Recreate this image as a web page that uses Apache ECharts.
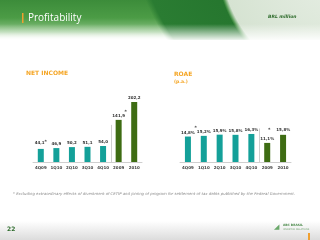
<!DOCTYPE html>
<html><head><meta charset="utf-8">
<script src="https://cdn.jsdelivr.net/npm/echarts@6/dist/echarts.min.js"></script>
<style>
html,body{margin:0;padding:0;background:#fff;width:320px;height:240px;overflow:hidden}
#hdr{position:absolute;left:0;top:0;width:320px;height:40px;
background:
linear-gradient(rgba(255,255,255,0) 60%, rgba(255,255,255,0.92) 100%),
radial-gradient(circle 130px at 345px -40px, #e9f0e7 0, #d6e3d2 95%, #4a944a 98%, rgba(0,0,0,0) 99%),
radial-gradient(circle 215px at 345px -80px, #1c6a27 0, #2a7c32 97%, rgba(0,0,0,0) 100%),
linear-gradient(#3c8c3a, #4c9c46 45%, #8fc487 80%, #ffffff 100%);}
#ftr{position:absolute;left:0;top:221px;width:320px;height:19px;background:linear-gradient(#ffffff,#dcdcdc)}
#c{position:absolute;left:0;top:0;width:320px;height:240px}
</style>
</head><body>
<div id="hdr"></div><div id="ftr"></div>
<div id="c"></div>
<script>
const categories = ['4Q09','1Q10','2Q10','3Q10','4Q10','2009','2010'];
const netIncome = [44.1, 46.9, 50.2, 51.1, 54.0, 141.9, 202.2];
const netIncomeLabels = ['44,1','46,9','50,2','51,1','54,0','141,9','202,2'];
const roae = [14.8, 15.2, 15.9, 15.8, 16.3, 11.1, 15.8];
const roaeLabels = ['14,8%','15,2%','15,9%','15,8%','16,3%','11,1%','15,8%'];

const TEAL = '#14a099', DARK = '#3e6c13';
const FONT = 'DejaVu Sans';
const chart = echarts.init(document.getElementById('c'), null, {renderer:'canvas'});

const rich = {
  v:{fontSize:4, fontWeight:'bold', color:'#333', fontFamily:FONT},
  sup:{fontSize:4.5, fontWeight:'bold', color:'#333', fontFamily:FONT, padding:[0,0,3,0]},
  sa:{fontSize:4.5, fontWeight:'bold', color:'#333', fontFamily:FONT, align:'right', padding:[0,-2,0,0]},
  sl:{fontSize:4.5, fontWeight:'bold', color:'#333', fontFamily:FONT, padding:[0,6,0,0]}
};

function niLabel(p){
  const t = netIncomeLabels[p.dataIndex];
  if (p.dataIndex === 0) return '{v|' + t + '}{sup|*}';
  if (p.dataIndex === 5) return '{sa|*}\n{v|' + t + '}';
  return '{v|' + t + '}';
}
function roLabel(p){
  const t = roaeLabels[p.dataIndex];
  if (p.dataIndex === 0) return '{sa|*}\n{v|' + t + '}';
  if (p.dataIndex === 6) return '{sl|*}{v|' + t + '}';
  return '{v|' + t + '}';
}
function colorFn(p){ return p.dataIndex < 5 ? TEAL : DARK; }

const axisX = (gi) => ({
  type:'category', gridIndex:gi, data:categories,
  axisLine:{lineStyle:{color:'#cfcfcf', width:1}},
  axisTick:{show:false},
  axisLabel:{fontSize:4, color:'#444', fontWeight:'bold', fontFamily:FONT, margin:4, interval:0}
});

chart.setOption({
  backgroundColor:'transparent',
  animation:false,
  grid:[
    {left:33, width:109, top:96.7, height:65.3},
    {left:180, width:111, top:127.6, height:34.4}
  ],
  xAxis:[axisX(0), axisX(1)],
  yAxis:[
    {type:'value', gridIndex:0, min:0, max:220, show:false},
    {type:'value', gridIndex:1, min:0, max:20, show:false}
  ],
  series:[
    {type:'bar', xAxisIndex:0, yAxisIndex:0, data:netIncome, barWidth:6,
     itemStyle:{color:colorFn},
     label:{show:true, position:'top', distance:2, formatter:niLabel, rich:rich}},
    {type:'bar', xAxisIndex:1, yAxisIndex:1, data:roae, barWidth:6,
     itemStyle:{color:colorFn},
     label:{show:true, position:'top', distance:2, formatter:roLabel, rich:rich},
     labelLayout:function(p){ return p.dataIndex===6 ? {dx:-4} : {}; }}
  ]
});

function sepX(gi){
  const a = chart.convertToPixel({xAxisIndex:gi}, '4Q10');
  const b = chart.convertToPixel({xAxisIndex:gi}, '2009');
  return Math.round((a+b)/2)+0.5;
}
const y0a = chart.convertToPixel({yAxisIndex:0}, 0);
const y1a = chart.convertToPixel({yAxisIndex:0}, 125);
const y0b = chart.convertToPixel({yAxisIndex:1}, 0);
const y1b = chart.convertToPixel({yAxisIndex:1}, 19.5);

chart.setOption({
  graphic:[
    {type:'rect', shape:{x:22, y:13, width:1.5, height:10}, style:{fill:'#f0a030'}},
    {type:'text', x:28, y:18, style:{text:'Profitability', fill:'#ffffff', font:'10px "Open Sans"', textVerticalAlign:'middle'}},
    {type:'text', x:268, y:17, style:{text:'BRL million', fill:'#2c6a2a', font:'italic bold 4.5px "DejaVu Sans"', textVerticalAlign:'middle'}},
    {type:'text', x:26, y:73, style:{text:'NET INCOME', fill:'#f5a523', font:'bold 6px "DejaVu Sans"', textVerticalAlign:'middle'}},
    {type:'text', x:174, y:74, style:{text:'ROAE', fill:'#f5a523', font:'bold 6px "DejaVu Sans"', textVerticalAlign:'middle'}},
    {type:'text', x:174, y:82, style:{text:'(p.a.)', fill:'#f5a523', font:'bold 4.5px "DejaVu Sans"', textVerticalAlign:'middle'}},
    {type:'line', shape:{x1:sepX(0), y1:y1a, x2:sepX(0), y2:y0a}, style:{stroke:'#d0d0d0', lineWidth:1}},
    {type:'line', shape:{x1:sepX(1), y1:y1b, x2:sepX(1), y2:y0b}, style:{stroke:'#d0d0d0', lineWidth:1}},
    {type:'text', x:13, y:194, style:{text:'* Excluding extraordinary effects of divestment of CETIP and joining of program for settlement of tax debts published by the Federal Government.', fill:'#8a8a8a', font:'italic 3.85px "DejaVu Sans"', textVerticalAlign:'middle'}},
    {type:'text', x:7, y:229, style:{text:'22', fill:'#2c6a2a', font:'bold 6px "DejaVu Sans"', textVerticalAlign:'middle'}},
    {type:'text', x:274, y:227, style:{text:'\u25E2', fill:'#6aa86a', font:'7px "DejaVu Sans"', textVerticalAlign:'middle'}},
    {type:'text', x:283, y:225.5, style:{text:'ABC BRASIL', fill:'#4a8a4a', font:'bold 3px "DejaVu Sans"', textVerticalAlign:'middle'}},
    {type:'text', x:283, y:229.5, style:{text:'INVESTOR RELATIONS', fill:'#7aa87a', font:'2.4px "DejaVu Sans"', textVerticalAlign:'middle'}},
    {type:'rect', shape:{x:308, y:233, width:2, height:7}, style:{fill:'#f0a030'}}
  ]
});
</script>
</body></html>
